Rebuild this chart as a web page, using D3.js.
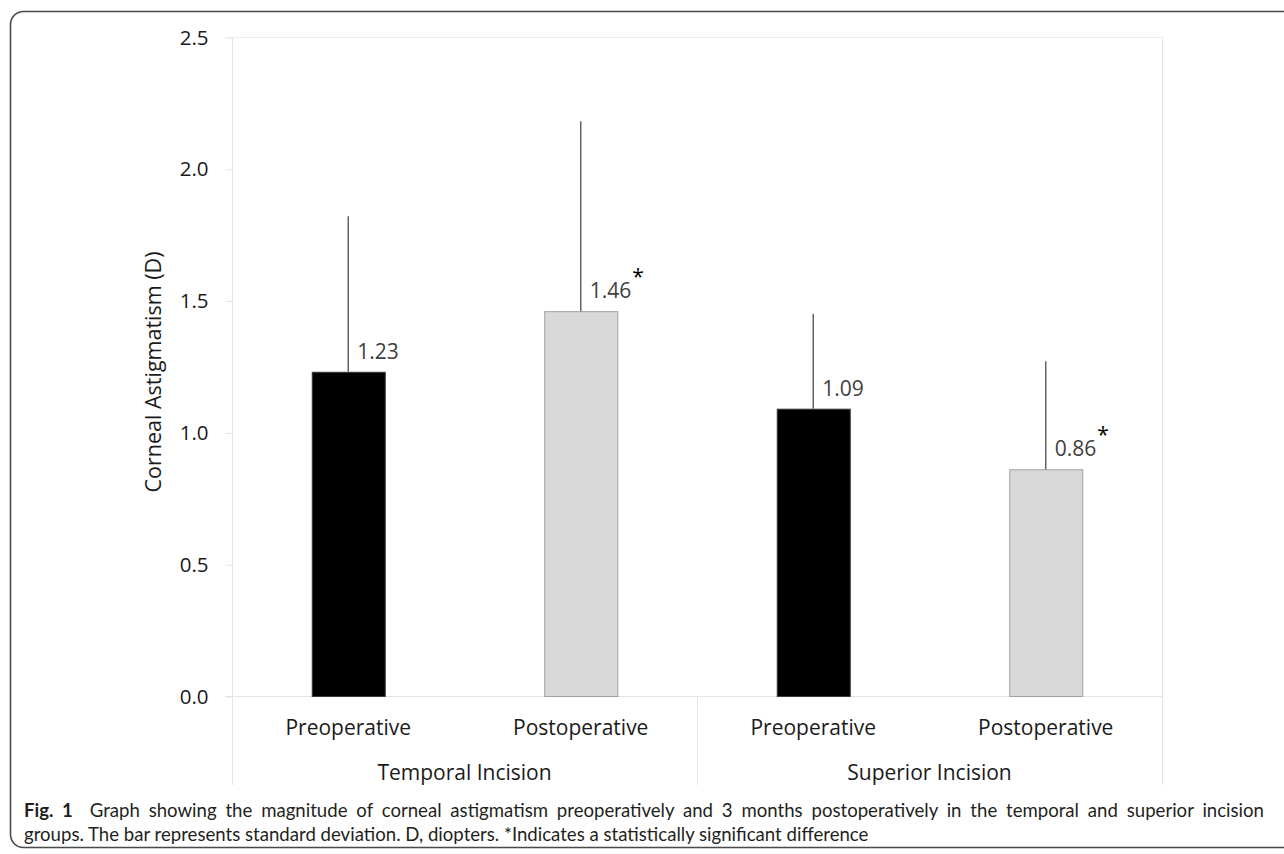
<!DOCTYPE html>
<html>
<head>
<meta charset="utf-8">
<script src="https://cdn.jsdelivr.net/npm/d3@7"></script>
<style>
  html, body { margin: 0; padding: 0; background: #fff; }
  svg { display: block; }
</style>
</head>
<body>
<svg id="chart" width="1284" height="854"></svg>
<script>
// ---- data ----
const groups = ["Temporal Incision", "Superior Incision"];
const phases = ["Preoperative", "Postoperative"];
const means = [1.23, 1.46, 1.09, 0.86];
const sds = [0.59, 0.72, 0.36, 0.41];
const significant = [false, true, false, true];
const yTicks = [0, 0.5, 1.0, 1.5, 2.0, 2.5];
const yTitle = "Corneal Astigmatism (D)";
const captionBold = "Fig. 1";
const captionLines = [
  "Graph showing the magnitude of corneal astigmatism preoperatively and 3 months postoperatively in the temporal and superior incision",
  "groups. The bar represents standard deviation. D, diopters. *Indicates a statistically significant difference"
];

// ---- build rows ----
const rows = [];
groups.forEach((g, gi) => phases.forEach((p, pi) => {
  const i = gi * phases.length + pi;
  rows.push({ key: g + "|" + p, group: g, phase: p, pi, mean: means[i], sd: sds[i], sig: significant[i] });
}));

const svg = d3.select("#chart");
const font = "'Open Sans', 'Noto Sans', sans-serif";
const pLeft = 232, pRight = 1162, pTop = 37, pBottom = 696;

const x = d3.scaleBand().domain(rows.map(r => r.key)).range([pLeft, pRight]).paddingInner(0.686).paddingOuter(0.343);
const xg = d3.scaleBand().domain(groups).range([pLeft, pRight]);
const y = d3.scaleLinear().domain([0, 2.5]).range([pBottom, pTop]);

// frame
svg.append("rect").attr("x", 10.5).attr("y", 11.5).attr("width", 1320).attr("height", 836)
  .attr("rx", 13).attr("fill", "none").attr("stroke", "#4a4a4a").attr("stroke-width", 1.6);

const grid = "#e4e4e4";
// plot border lines
svg.append("line").attr("x1", pLeft - 7).attr("x2", pRight).attr("y1", y(2.5) + 0.5).attr("y2", y(2.5) + 0.5).attr("stroke", "#eeeeee");
svg.append("line").attr("x1", pLeft - 7).attr("x2", pRight).attr("y1", y(0) + 0.5).attr("y2", y(0) + 0.5).attr("stroke", grid);

// y axis
const yAxis = d3.axisLeft(y).tickValues(yTicks).tickFormat(d3.format(".1f")).tickSize(7).tickPadding(17);
const ya = svg.append("g").attr("transform", `translate(${pLeft + 0.5},0.5)`).call(yAxis);
ya.select(".domain").attr("stroke", grid).attr("d", `M0,${pTop}V${pBottom}`);
ya.selectAll(".tick line").attr("stroke", grid);
ya.selectAll(".tick text").attr("font-family", font).attr("font-size", 20.5).attr("fill", "#1a1a1a");

// right border & group dividers
[pLeft, xg("Superior Incision"), pRight].forEach((xv, i) => {
  svg.append("line").attr("x1", Math.round(xv) + 0.5).attr("x2", Math.round(xv) + 0.5)
    .attr("y1", i === 2 ? pTop : pBottom).attr("y2", 785).attr("stroke", grid);
});

// y title
svg.append("text").attr("transform", `translate(161,372) rotate(-90)`)
  .attr("text-anchor", "middle").attr("font-family", font).attr("font-size", 21.5).attr("fill", "#1a1a1a").text(yTitle);

// bars
const bw = x.bandwidth();
svg.append("g").selectAll("rect").data(rows).join("rect")
  .attr("x", d => x(d.key) + 0.5).attr("y", d => y(d.mean) + 0.5)
  .attr("width", bw).attr("height", d => y(0) - y(d.mean))
  .attr("fill", d => d.pi === 0 ? "#000000" : "#d9d9d9")
  .attr("stroke", d => d.pi === 0 ? "#3a3a3a" : "#a0a0a0").attr("stroke-width", 1);

// error bars (upper only)
svg.append("g").selectAll("line").data(rows).join("line")
  .attr("x1", d => x(d.key) + bw / 2).attr("x2", d => x(d.key) + bw / 2)
  .attr("y1", d => y(d.mean)).attr("y2", d => y(d.mean + d.sd))
  .attr("stroke", "#5a5a5a").attr("stroke-width", 1.4);

// value labels
const lab = svg.append("g").selectAll("text").data(rows).join("text")
  .attr("x", d => x(d.key) + bw / 2 + 9).attr("y", d => y(d.mean) - 13)
  .attr("font-family", font).attr("font-size", 21).attr("fill", "#404040");
lab.append("tspan").text(d => d3.format(".2f")(d.mean));
lab.filter(d => d.sig).append("tspan").attr("dy", -14).attr("dx", 1).attr("fill", "#000").attr("font-size", 21).text("*");

// category labels
svg.append("g").selectAll("text").data(rows).join("text")
  .attr("x", d => x(d.key) + bw / 2).attr("y", 735)
  .attr("text-anchor", "middle").attr("font-family", font).attr("font-size", 21).attr("fill", "#1a1a1a")
  .text(d => d.phase);

// group labels
svg.append("g").selectAll("text").data(groups).join("text")
  .attr("x", d => xg(d) + xg.bandwidth() / 2).attr("y", 780)
  .attr("text-anchor", "middle").attr("font-family", font).attr("font-size", 21).attr("fill", "#1a1a1a")
  .text(d => d);

// caption (justified first line)
const capFont = "Lato, 'Open Sans', sans-serif";
const capSize = 18.6;
const c1 = svg.append("text").attr("x", 24).attr("y", 817).attr("font-family", capFont).attr("font-size", capSize).attr("fill", "#231f20");
c1.append("tspan").attr("font-weight", "bold").text(captionBold);
c1.append("tspan").attr("dx", 8).text(" " + captionLines[0]);
const natural = c1.node().getComputedTextLength() + 8;
const spaces = (captionLines[0].match(/ /g) || []).length + 2;
const extra = Math.max(0, (1240 - natural) / spaces);
c1.attr("word-spacing", extra);
svg.append("text").attr("x", 24).attr("y", 841).attr("font-family", capFont).attr("font-size", capSize).attr("fill", "#231f20").text(captionLines[1]);
</script>
</body>
</html>
